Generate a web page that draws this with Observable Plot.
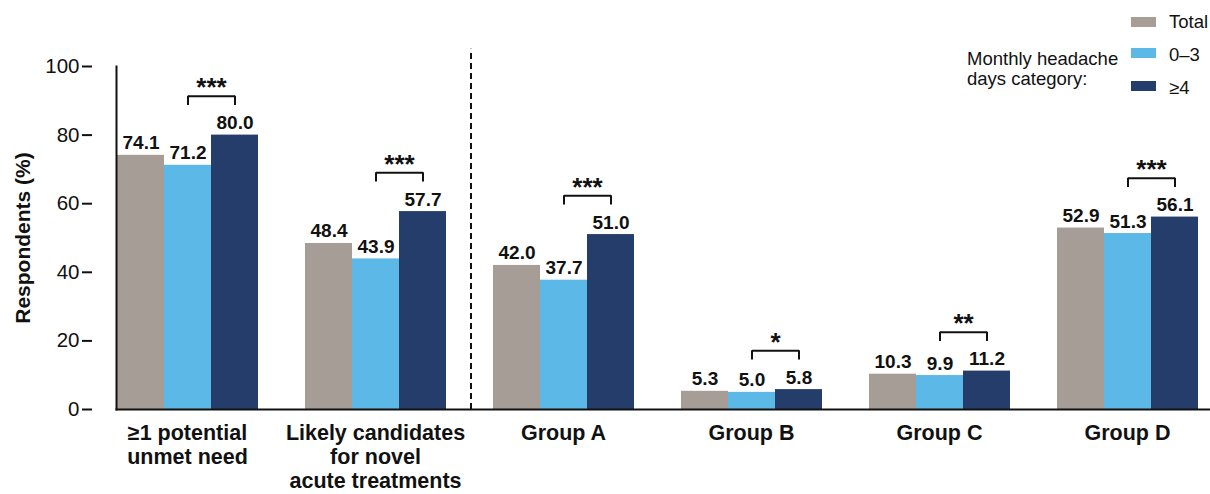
<!DOCTYPE html>
<html>
<head>
<meta charset="utf-8">
<script src="https://cdn.jsdelivr.net/npm/d3@7"></script>
<script src="https://cdn.jsdelivr.net/npm/@observablehq/plot@0.6"></script>
<style>
  body { margin: 0; background: #fff; font-family: "Liberation Sans", Arial, sans-serif; color: #111; }
  #wrap { position: relative; width: 1210px; height: 494px; overflow: hidden; }
  g[aria-label="stars"] text { letter-spacing: 4px; }
  .lg { position: absolute; font-size: 18.5px; line-height: 20px; color: #111; white-space: nowrap; }
  .sw { position: absolute; width: 25px; height: 10px; }
  #ytitle { position: absolute; left: 22px; top: 238px; transform: translate(-50%, -50%) rotate(-90deg);
            font-size: 21px; font-weight: bold; white-space: nowrap; color: #111; line-height: 1; }
</style>
</head>
<body>
<div id="wrap">
  <div id="chart"></div>
  <div id="legend"></div>
  <div id="ytitle"></div>
</div>
<script>
// ---- data ----
const groups = [
  "≥1 potential\nunmet need",
  "Likely candidates\nfor novel\nacute treatments",
  "Group A",
  "Group B",
  "Group C",
  "Group D"
];
const seriesNames = ["Total", "0–3", "≥4"];
const totalValues = [74.1, 48.4, 42.0, 5.3, 10.3, 52.9];
const lowValues   = [71.2, 43.9, 37.7, 5.0, 9.9, 51.3];
const highValues  = [80.0, 57.7, 51.0, 5.8, 11.2, 56.1];
const sigStars    = ["***", "***", "***", "*", "**", "***"];
const yTicks = [0, 20, 40, 60, 80, 100];
const yTitle = "Respondents (%)";
const legendTitle = ["Monthly headache", "days category:"];
const colors = ["#a59d96", "#5cb8e6", "#243d6a"];

// ---- derived tables ----
const seriesValues = [totalValues, lowValues, highValues];
const rows = groups.flatMap((g, i) =>
  seriesNames.map((s, k) => ({group: g, series: s, value: seriesValues[k][i]}))
);
const bracketGap = 11.3;
const brackets = groups.map((g, i) => ({
  group: g,
  stars: sigStars[i],
  level: Math.max(totalValues[i], lowValues[i], highValues[i]) + bracketGap
}));
const bracketEnds = brackets.flatMap(b => [
  {group: b.group, series: seriesNames[1], level: b.level},
  {group: b.group, series: seriesNames[2], level: b.level}
]);
const divider = [{group: groups[2]}];

const fmt = d3.format(".1f");

const chart = Plot.plot({
  width: 1210,
  height: 494,
  marginLeft: 91,
  marginRight: 12,
  marginTop: 66,
  marginBottom: 85,
  style: {fontFamily: "'Liberation Sans', Arial, sans-serif", color: "#111", background: "#fff", overflow: "visible"},
  fx: {domain: groups, paddingInner: 0.245, paddingOuter: 0.0638, align: 1, label: null},
  x: {domain: seriesNames, padding: 0, axis: null},
  y: {domain: [0, 100], label: null},
  color: {domain: seriesNames, range: colors},
  marks: [
    Plot.barY(rows, {fx: "group", x: "series", y: "value", fill: "series"}),
    Plot.text(rows, {
      fx: "group", x: "series", y: "value",
      text: d => fmt(d.value),
      lineAnchor: "bottom", dy: -6,
      fontSize: 19, fontWeight: "bold", fill: "#111"
    }),
    Plot.link(brackets, {
      fx: "group",
      x1: () => seriesNames[1], x2: () => seriesNames[2],
      y1: "level", y2: "level",
      stroke: "#111", strokeWidth: 2
    }),
    Plot.ruleX(bracketEnds, {
      fx: "group", x: "series",
      y1: "level", y2: d => d.level - 2.7,
      stroke: "#111", strokeWidth: 2
    }),
    Plot.text(brackets, {
      fx: "group", x: () => seriesNames[2], y: "level",
      text: "stars", dx: -23.5, dy: 0,
      lineAnchor: "bottom", fontSize: 26, fontWeight: "bold", fill: "#111",
      ariaLabel: "stars"
    }),
    Plot.ruleX(divider, {
      fx: "group", x: () => seriesNames[0],
      y1: 0, y2: 105, dx: -46,
      stroke: "#111", strokeWidth: 2, strokeDasharray: "6,4"
    }),
    Plot.frame({anchor: "bottom", facet: "super", stroke: "#111", strokeWidth: 2, insetRight: -12}),
    Plot.frame({anchor: "left", facet: "super", stroke: "#111", strokeWidth: 2}),
    Plot.axisY({
      ticks: yTicks, dx: -24, tickSize: 10, tickPadding: 3,
      fontSize: 20.5, label: null, stroke: "#111", strokeWidth: 2, fill: "#111"
    }),
    Plot.axisFx({
      anchor: "bottom", tickSize: 0, tickPadding: 14,
      fontSize: 21.5, fontWeight: "bold", lineHeight: 1.1, label: null, fill: "#111"
    })
  ]
});
document.getElementById("chart").appendChild(chart);

document.getElementById("ytitle").textContent = yTitle;

// ---- legend ----
const legend = document.getElementById("legend");
const swTops = [17, 48, 81];
const txTops = [12, 45, 78];
seriesNames.forEach((s, i) => {
  const sw = document.createElement("div");
  sw.className = "sw";
  sw.style.left = "1131px";
  sw.style.top = swTops[i] + "px";
  sw.style.background = colors[i];
  legend.appendChild(sw);
  const t = document.createElement("div");
  t.className = "lg";
  t.style.left = "1169px";
  t.style.top = txTops[i] + "px";
  t.textContent = s;
  legend.appendChild(t);
});
const title = document.createElement("div");
title.className = "lg";
title.style.left = "967px";
title.style.top = "49px";
title.innerHTML = legendTitle.join("<br>");
legend.appendChild(title);
</script>
</body>
</html>
